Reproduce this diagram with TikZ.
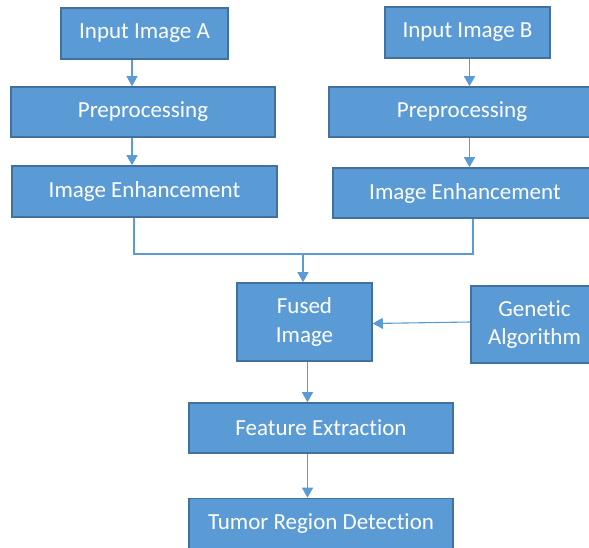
\documentclass[tikz,border=0pt]{standalone}
\usepackage{fontspec}
\setmainfont[Ligatures=NoCommon]{Carlito}
\usetikzlibrary{arrows.meta}
\definecolor{boxfill}{HTML}{5B9BD5}
\definecolor{boxdraw}{HTML}{41719C}
\definecolor{linecol}{HTML}{5B9BD5}
\tikzset{
  blk/.style={draw=boxdraw, fill=boxfill, line width=1.6pt, text=white, inner sep=0pt,
    font=\fontsize{23}{28.5}\selectfont, align=center},
  arr/.style={draw=linecol, line width=1.1pt, -{Triangle[width=11pt,length=10pt]}},
  ln/.style={draw=linecol, line width=1.1pt}
}
\begin{document}
\begin{tikzpicture}[x=1pt,y=-1pt]
\useasboundingbox (0,0) rectangle (589,548);
\clip (0,0) rectangle (589,548);
\node[blk, minimum width=167pt, minimum height=51pt] (inA) at (144.5,33.5) {Input Image A};
\node[blk, minimum width=264pt, minimum height=50pt] (preA) at (143,112) {Preprocessing};
\node[blk, minimum width=265pt, minimum height=51pt] (enhA) at (144.5,191.5) {Image Enhancement};
\node[blk, minimum width=165pt, minimum height=51pt] (inB) at (467.5,32.5) {Input Image B};
\node[blk, minimum width=266pt, minimum height=50pt] (preB) at (462,112) {Preprocessing};
\node[blk, minimum width=264pt, minimum height=50pt] (enhB) at (465,193) {Image Enhancement};
\node[blk, minimum width=135pt, minimum height=78pt] (fused) at (304.5,322) {Fused\\Image};
\node[blk, minimum width=127pt, minimum height=77pt] (ga) at (534.5,324.5) {Genetic\\Algorithm};
\node[blk, minimum width=264pt, minimum height=50pt] (fe) at (321,428) {Feature Extraction};
\node[blk, minimum width=264pt, minimum height=50pt] (tumor) at (321,523.5) {Tumor Region Detection};
\coordinate (xa) at (132,0);
\coordinate (xb) at (469.5,0);
\coordinate (xl) at (134,0);
\coordinate (xr) at (473,0);
\coordinate (xm) at (303,0);
\coordinate (xf) at (307.5,0);
\coordinate (jl) at (134,254);
\coordinate (jr) at (473,254);
\coordinate (jm) at (303,254);
\draw[arr] (inA.south -| xa) -- (preA.north -| xa);
\draw[arr] (preA.south -| xa) -- (enhA.north -| xa);
\draw[arr] (inB.south -| xb) -- (preB.north -| xb);
\draw[arr] (preB.south -| xb) -- (enhB.north -| xb);
\draw[ln] (enhA.south -| xl) -- (jl) -- (jr) -- (enhB.south -| xr);
\draw[arr] (jm) -- (fused.north -| xm);
\draw[arr] (ga.west |- 0,322) -- (fused.east |- 0,323.5);
\draw[arr] (fused.south -| xf) -- (fe.north -| xf);
\draw[arr] (fe.south -| xf) -- (tumor.north -| xf);
\end{tikzpicture}
\end{document}
